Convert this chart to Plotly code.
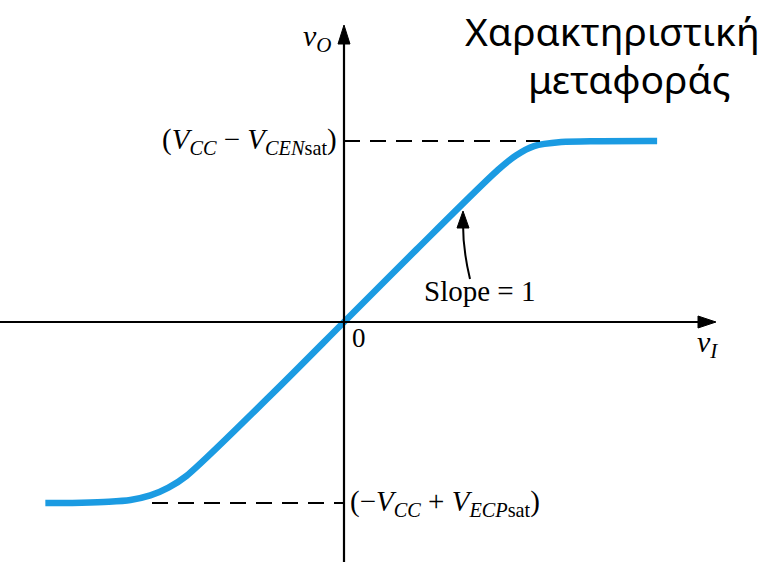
import plotly.graph_objects as go

# Transfer characteristic of the class-B output stage (normalised units:
# the saturation levels sit at +/-1, slope = 1 in the linear region)
v_in = [-1.65, -1.45, -1.30, -1.18, -1.07, -0.97, -0.87, -0.40, 0.0, 0.40, 0.85, 0.95, 1.05, 1.20, 1.40, 1.73]
v_out = [-1.00, -0.998, -0.993, -0.983, -0.958, -0.915, -0.85, -0.40, 0.0, 0.40, 0.84, 0.92, 0.972, 0.994, 0.999, 1.00]

v_sat_pos = 1.0      # (Vcc - Vce,sat)
v_sat_neg = -1.0     # (-Vcc + Vec,sat)

W, H = 761, 566
X0, Y0, S = 344.0, 322.0, 181.0   # origin position and pixels per unit


def dx(px):
    return (px - X0) / S


def dy(py):
    return (Y0 - py) / S


def pt(px, py):
    return f"{dx(px):.4f},{dy(py):.4f}"


SERIF = "Liberation Serif, Times New Roman, serif"
SANS = "Noto Sans, DejaVu Sans, sans-serif"
BLUE = "#1b9be2"

fig = go.Figure()
fig.add_trace(go.Scatter(
    x=v_in, y=v_out, mode="lines",
    line=dict(color=BLUE, width=6.5, shape="spline", smoothing=0.8),
    hoverinfo="skip", showlegend=False,
))

shapes = [
    # axes
    dict(type="line", x0=dx(0), y0=0, x1=dx(702), y1=0, line=dict(color="black", width=2.2)),
    dict(type="line", x0=0, y0=dy(562), x1=0, y1=dy(40), line=dict(color="black", width=2.2)),
    # arrowheads
    dict(type="path", path=f"M{pt(716, 322)} L{pt(698, 316)} L{pt(698, 328)} Z",
         fillcolor="black", line=dict(color="black", width=1)),
    dict(type="path", path=f"M{pt(344, 25)} L{pt(338, 44)} L{pt(350, 44)} Z",
         fillcolor="black", line=dict(color="black", width=1)),
    # saturation levels
    dict(type="line", x0=0, y0=v_sat_pos, x1=dx(540), y1=v_sat_pos,
         line=dict(color="black", width=2, dash="16px,10px")),
    dict(type="line", x0=dx(152), y0=v_sat_neg, x1=0, y1=v_sat_neg,
         line=dict(color="black", width=2, dash="16px,10px")),
    # slope pointer
    dict(type="path", path=f"M{pt(470, 279)} Q{pt(463, 250)} {pt(463, 224)}",
         line=dict(color="black", width=2)),
    dict(type="path", path=f"M{pt(463, 211)} L{pt(457, 228)} L{pt(469, 228)} Z",
         fillcolor="black", line=dict(color="black", width=1)),
]

annotations = [
    dict(x=dx(334), y=dy(38), text="<i>v</i><sub><i>O</i></sub>", xanchor="right", yanchor="middle",
         font=dict(family=SERIF, size=30, color="black")),
    dict(x=dx(695), y=dy(344), text="<i>v</i><sub><i>I</i></sub>", xanchor="left", yanchor="middle",
         font=dict(family=SERIF, size=30, color="black")),
    dict(x=dx(350), y=dy(338), text="0", xanchor="left", yanchor="middle",
         font=dict(family=SERIF, size=27, color="black")),
    dict(x=dx(339), y=v_sat_pos, text="(<i>V</i><sub><i>CC</i></sub> \u2212 <i>V</i><sub><i>CEN</i>sat</sub>)",
         xanchor="right", yanchor="middle", font=dict(family=SERIF, size=29, color="black")),
    dict(x=dx(348), y=v_sat_neg, text="(\u2212<i>V</i><sub><i>CC</i></sub> + <i>V</i><sub><i>ECP</i>sat</sub>)",
         xanchor="left", yanchor="middle", font=dict(family=SERIF, size=29, color="black")),
    dict(x=dx(479), y=dy(291), text="Slope = 1", xanchor="center", yanchor="middle",
         font=dict(family=SERIF, size=29, color="black")),
    dict(x=dx(612), y=dy(30), text="Χαρακτηριστική", xanchor="center", yanchor="middle",
         font=dict(family=SANS, size=39, color="black")),
    dict(x=dx(629), y=dy(78), text="μεταφοράς", xanchor="center", yanchor="middle",
         font=dict(family=SANS, size=39, color="black")),
]
for a in annotations:
    a.update(xref="x", yref="y", showarrow=False)

fig.update_layout(
    width=W, height=H,
    margin=dict(l=0, r=0, t=0, b=0),
    paper_bgcolor="white", plot_bgcolor="white",
    xaxis=dict(range=[dx(0), dx(W)], visible=False, fixedrange=True),
    yaxis=dict(range=[dy(H), dy(0)], visible=False, fixedrange=True),
    shapes=shapes, annotations=annotations,
    showlegend=False,
)

fig.write_html("out.html")
